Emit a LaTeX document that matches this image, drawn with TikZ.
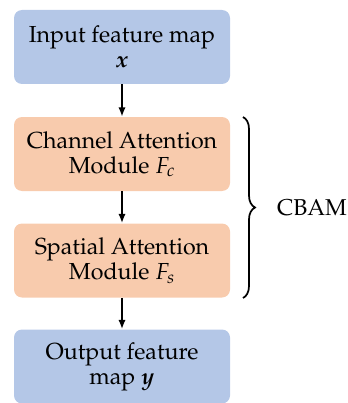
\documentclass[tikz,border=0pt]{standalone}
\usepackage[T1]{fontenc}
\usepackage{amsmath,amssymb}
\usepackage{mathpazo}
\usepackage{bm}
\usepackage{tikz}
\usetikzlibrary{arrows.meta, decorations.pathreplacing}
\usepackage{xcolor}

\definecolor{boxblue}{RGB}{180,199,231}
\definecolor{boxorange}{RGB}{248,203,173}

\tikzset{
  blockbox/.style={rounded corners=6pt, minimum width=162pt, minimum height=55.5pt,
    inner sep=0pt, align=center, font=\fontsize{17.4}{18.8}\selectfont},
  flowarrow/.style={-{Latex[length=7pt,width=5.5pt]}, line width=1.4pt}
}

\begin{document}
\begin{tikzpicture}[x=0.75pt,y=0.75pt,yscale=-1,xscale=1]
\useasboundingbox (0,0) rectangle (348,403);

% Blocks
\node [blockbox, fill=boxblue] (inp) at (122,47) {Input feature map\\$\bm{x}$};
\node [blockbox, fill=boxorange] (cam) at (122,154) {Channel Attention\\Module $F_c$};
\node [blockbox, fill=boxorange] (sam) at (122,260.5) {Spatial Attention\\Module $F_s$};
\node [blockbox, fill=boxblue] (outp) at (122,366.5) {Output feature\\map $\bm{y}$};

% Arrows
\draw [flowarrow] (inp) -- (cam);
\draw [flowarrow] (cam) -- (sam);
\draw [flowarrow] (sam) -- (outp);

% Brace
\coordinate (btop) at (243,117);
\coordinate (bbot) at (243,298);
\draw [line width=1.3pt, decorate, decoration={brace, amplitude=9pt}] (btop) -- (bbot);

% Text Node
\node [font=\fontsize{17.2}{18.8}\selectfont] (cbam) at (312,208) {CBAM};

\end{tikzpicture}
\end{document}
